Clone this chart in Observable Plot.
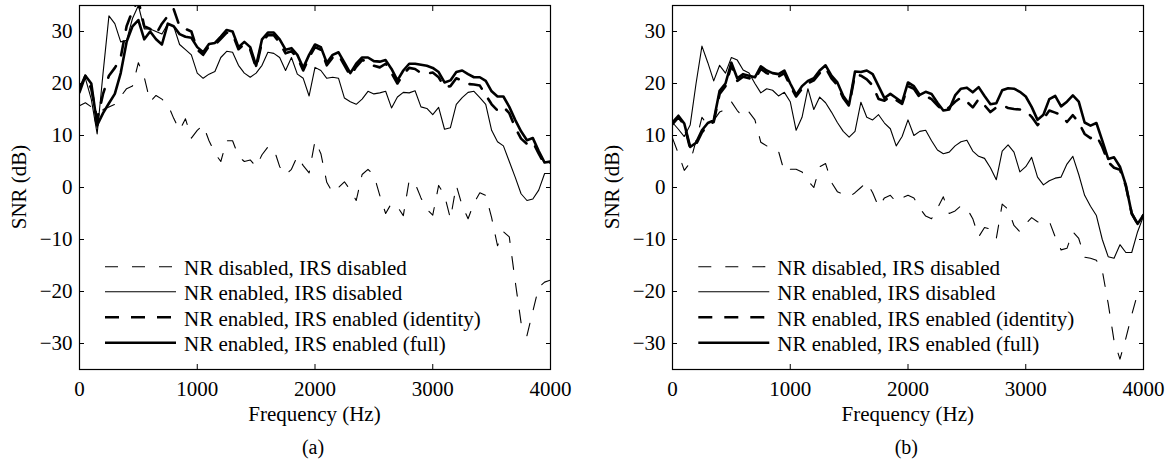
<!DOCTYPE html>
<html><head><meta charset="utf-8">
<script src="https://cdn.jsdelivr.net/npm/d3@7"></script>
<script src="https://cdn.jsdelivr.net/npm/@observablehq/plot@0.6"></script>
<style>
html,body{margin:0;padding:0;background:#fff;}
#wrap{position:relative;width:1173px;height:462px;overflow:hidden;background:#fff;}
#wrap, #wrap svg, #wrap svg text{font-family:"Liberation Serif","DejaVu Serif","Noto Serif",serif !important;}
#wrap .panel{position:absolute;top:0;}
#overlay{position:absolute;left:0;top:0;}
</style></head><body><div id="wrap"></div>
<script>
// frequency grid (Hz)
const freqHz = d3.range(0, 4001, 50);
const xTicks = [0, 1000, 2000, 3000, 4000];
const yTicks = [-30, -20, -10, 0, 10, 20, 30];
const legendLabels = [
  "NR disabled, IRS disabled",
  "NR enabled, IRS disabled",
  "NR enabled, IRS enabled (identity)",
  "NR enabled, IRS enabled (full)"
];
const panelLabels = ["(a)", "(b)"];

// Panel (a)
const a_nrOffIrsOff = [15.7,16.3,15.5,11.5,15,15.5,16,17.5,19,19.5,
 24,21.2,16.5,17.7,17,16,13.3,11,13.2,9.5,
 11,12,9,6.6,5,9,9,6,5,5.3,
 4,6.3,7.8,7.5,4,2.4,3.5,6,4.2,2.8,
 9,6.5,1,-1,0,1.1,-0.5,-2.5,2.5,3.5,
 2.4,-1.5,-5,-3,-3.7,-5.4,1.4,0.8,-2,-4.2,
 -5.3,0.4,-1.5,-6,0.4,-3.5,-6,-3,-1,-1.5,
 -5.8,-11.2,-8.5,-9.5,-18,-26,-28.5,-23.8,-19.2,-18.2,
 -17.8];
const a_nrOnIrsOff = [19.5,21,17,10.3,22,33,31.5,28,28.3,32.5,
 35,30.5,30.5,30,29.5,31.5,31,27.5,26.5,25.5,
 22,21,21.8,22.3,25,26.2,26,23.5,22,21.2,
 22,23.5,26,25.8,25,22.5,25,21.8,21,17.6,
 23.1,22.5,21,21.2,21,17.2,16.5,16,17,18.5,
 18,18.2,18.5,15.3,17.4,18.3,18.2,18.6,15.5,15.2,
 14,15.4,11.2,11.5,16,17.3,18.3,18.5,17.3,16,
 11,8.8,8,5,2,-1.2,-2.5,-2.2,-0.5,2.7,
 2.7];
const a_identity = [19,21.5,19,13,18,21.5,23,25,31,34,
 36,31,30.5,29.5,31.5,33,34.3,31,30.5,30,
 26.5,25.5,27.2,27.4,28.6,29.8,29.5,26.6,27.6,26.5,
 23,28,29.3,29.3,27.8,25.8,26.2,25,22.5,25,
 27,26.5,23.5,25,25.5,23.5,21.5,23.2,24.5,24.3,
 23.4,23.1,23.8,22,20,21.8,23,22.8,22,21.9,
 22.1,21.2,19.3,19.5,21,20.6,19.9,19.8,19.6,17.8,
 16,14.8,15.5,14.3,11.5,9.4,8.4,8.8,6.5,4.5,
 4.8];
const a_full = [18.3,21.5,20,12,14.3,16.2,18,22,28,31,
 32.2,28.5,30,28.5,27.5,31.5,31,29.5,29,28.8,
 27,26,27.6,27.8,29,30.3,30,27,28,27,
 23.4,28.5,29.8,29.8,28.5,26.5,26.8,25.5,23,25.5,
 27.5,27,24,25.5,26,24,22,23.8,25,25,
 24.3,24.2,24.5,22.8,20.6,22.5,23.8,23.8,23.6,23.4,
 23,22.2,20.2,20.6,22.2,22.5,21.8,21.2,21.2,20.5,
 18.5,17.5,17.5,15.5,13,10.8,9.1,9.5,7,4.8,
 5];

// Panel (b)
const b_nrOffIrsOff = [9.5,6.5,3.3,4.8,9,13.5,12,12.9,14.5,15,
 16.5,14.8,13.5,14.5,13,8.7,8,7.3,7,3,
 3.5,3.5,3,1.3,0,4,4.6,1,-0.8,-1.3,
 -1.8,-1,0,1,-1,-3.7,-2,-1.5,-2.8,-2,
 -1.5,-2,-4,-5.5,-6,-4,-1.8,-5,-4.5,-3.5,
 -4,-6,-9.5,-7.7,-8,-9.8,-3.2,-4.2,-7.3,-8.5,
 -7,-5.8,-6.6,-6.8,-6.5,-9.5,-12,-11.7,-8.5,-9.8,
 -13.4,-13.6,-14,-16,-22.3,-29.5,-33,-29,-24.5,-20.4,
 -20];
const b_nrOnIrsOff = [12.5,11.2,9.8,12,20,27.2,24,20.5,23.5,22,
 25,24.5,22.6,22,20,18.2,19,18.7,17.6,18.3,
 16.5,11,13.5,19,15,17.4,16.3,14.5,12.5,10.8,
 9.7,10.8,16.4,13.5,13,14,12.4,11.3,8,9.8,
 13,10,10.8,11,9,7.2,6.5,6.8,8,8.8,
 9.1,7,6,5.6,3.8,1.5,7,8.2,6.8,3,
 4,5.8,2,0.5,1.3,1.8,2,4.5,6,2.5,
 -1.5,-3.6,-5.4,-10,-13.3,-13.6,-11,-12.5,-12.5,-8.5,
 -5.5];
const b_identity = [12.2,13.5,12,7.5,8.3,10.6,12,12.6,18,19.5,
 23.5,20.5,21.3,21,20.8,22.8,22,21.5,21.3,22,
 19.5,17.5,19,20,20.6,22,23,21,19.7,17.2,
 15.7,21.8,21.5,20.8,19.6,17,16.7,17.5,16.8,16.1,
 19.5,19,17.3,17.6,17,15.8,14.6,15.4,16.5,17.3,
 16.5,15.4,17,15.8,14.5,15.4,15.8,15.3,15.1,15,
 14.8,13.6,12,13.2,14.8,14.4,14,12.6,13.9,12.5,
 10.3,9.5,10,7.8,4.9,3.8,3.4,0.3,-5,-7,
 -5.3];
const b_full = [12.5,13.8,12.3,7.8,8.6,11,12.4,12.9,18.6,20,
 24,21,21.8,21.5,21.2,23.3,22.5,22,21.8,22.5,
 20,17.8,19.5,20.5,21,22.5,23.5,21.5,20.2,17.6,
 16,22.3,22.2,22.5,21.8,19.5,17.2,18,17.2,16.4,
 20.2,19.5,17.8,18.4,18,16.3,14.8,15,17.7,19,
 19.2,18.3,19.3,17.6,16,16.2,18.7,19.1,19,18.4,
 17.5,15.5,13,14,17,17.6,15.6,16.5,17.7,16.5,
 12.5,11.9,12.4,9,5.5,5.8,4,0.5,-5,-7,
 -5.3];

const styles = [
  {strokeWidth: 1.1, strokeDasharray: "13,14"},
  {strokeWidth: 1.1, strokeDasharray: null},
  {strokeWidth: 2.6, strokeDasharray: "14,12"},
  {strokeWidth: 2.6, strokeDasharray: null}
];
const fmt = d => d < 0 ? "\u2212" + (-d) : String(d);
const FONT = '"Liberation Serif", "DejaVu Serif", "Noto Serif", serif';

const W = 580, H = 430, ML = 79, MR = 30, MT = 5, MB = 61;
const panelLefts = [0, 593.3];
const panels = [
  [a_nrOffIrsOff, a_nrOnIrsOff, a_identity, a_full],
  [b_nrOffIrsOff, b_nrOnIrsOff, b_identity, b_full]
];

const wrap = document.getElementById("wrap");
panels.forEach((series, p) => {
  const lineMarks = series.map((arr, s) => Plot.line(
    freqHz.map((f, i) => ({f, v: arr[i]})),
    {x: "f", y: "v", stroke: "black", strokeWidth: styles[s].strokeWidth,
     strokeDasharray: styles[s].strokeDasharray, strokeLinejoin: "round", clip: true}
  ));
  const chart = Plot.plot({
    width: W, height: H,
    marginLeft: ML, marginRight: MR, marginTop: MT, marginBottom: MB,
    style: {fontFamily: FONT, fontSize: "21px", color: "black", background: "transparent", overflow: "visible"},
    x: {domain: [0, 4000], label: null},
    y: {domain: [-35, 35], label: null},
    marks: [
      ...lineMarks,
      Plot.axisX(xTicks, {anchor: "bottom", tickSize: -5, tickPadding: 17, tickFormat: fmt, label: null, stroke: "black", fill: "black", fontFamily: FONT}),
      Plot.axisX(xTicks, {anchor: "top", tickSize: -5, fill: "none", label: null, stroke: "black"}),
      Plot.axisY(yTicks, {anchor: "left", tickSize: -5, tickPadding: 12, tickFormat: fmt, label: null, stroke: "black", fill: "black", fontFamily: FONT}),
      Plot.axisY(yTicks, {anchor: "right", tickSize: -5, fill: "none", label: null, stroke: "black"}),
      Plot.frame({stroke: "black", strokeWidth: 1.2})
    ]
  });
  chart.classList.add("panel");
  chart.style.left = panelLefts[p] + "px";
  wrap.appendChild(chart);
});

// overlay: axis titles, captions, legends
const ov = d3.select(wrap).append("svg").attr("id", "overlay")
  .attr("width", 1173).attr("height", 462)
  .attr("font-family", FONT)
  .attr("font-size", 21);
const rowY = [266.7, 291.7, 317.3, 342.7];
panelLefts.forEach((L, p) => {
  const fx0 = L + ML, fx1 = L + W - MR;
  const cx = (fx0 + fx1) / 2;
  ov.append("text").attr("transform", `translate(${fx0 - 60.5},187) rotate(-90)`)
    .attr("text-anchor", "middle").attr("dy", "0.35em").text("SNR (dB)");
  ov.append("text").attr("x", cx).attr("y", 421).attr("text-anchor", "middle").text("Frequency (Hz)");
  ov.append("text").attr("x", cx - 1.5).attr("y", 454).attr("text-anchor", "middle")
    .attr("font-size", 20).text(panelLabels[p]);
  legendLabels.forEach((lab, i) => {
    ov.append("line").attr("x1", fx0 + 26).attr("x2", fx0 + 97)
      .attr("y1", rowY[i]).attr("y2", rowY[i])
      .attr("stroke", "black").attr("stroke-width", styles[i].strokeWidth)
      .attr("stroke-dasharray", styles[i].strokeDasharray);
    ov.append("text").attr("x", fx0 + 105).attr("y", rowY[i] + 8.3).text(lab);
  });
});
</script>
</body></html>
